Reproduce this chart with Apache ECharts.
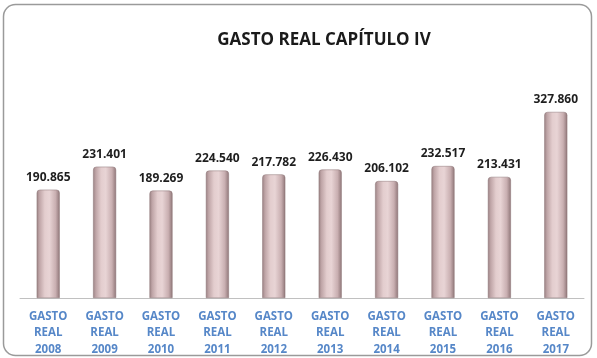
<!DOCTYPE html>
<html>
<head>
<meta charset="utf-8">
<script src="https://cdn.jsdelivr.net/npm/echarts@6/dist/echarts.min.js"></script>
<style>
  html, body { margin: 0; padding: 0; background: #ffffff; }
  #chart { width: 597px; height: 358px; }
</style>
</head>
<body>
<div id="chart"></div>
<script>
// Real spending, chapter IV, by year (thousands)
const years = ['2008', '2009', '2010', '2011', '2012', '2013', '2014', '2015', '2016', '2017'];
const categories = years.map(y => 'GASTO\nREAL\n' + y);
const gastoReal = [190.865, 231.401, 189.269, 224.540, 217.782, 226.430, 206.102, 232.517, 213.431, 327.860];

const chart = echarts.init(document.getElementById('chart'), null, { renderer: 'canvas' });

// Cylinder-like shading across each bar
const barFill = new echarts.graphic.LinearGradient(0, 0, 1, 0, [
  { offset: 0, color: '#9b8284' },
  { offset: 0.12, color: '#bfa5a7' },
  { offset: 0.35, color: '#e3cdce' },
  { offset: 0.55, color: '#e8d4d5' },
  { offset: 0.82, color: '#c9afb1' },
  { offset: 1, color: '#8f7678' }
]);

const fmt = v => v.toFixed(3);

chart.setOption({
  animation: false,
  backgroundColor: '#ffffff',
  title: {
    text: 'GASTO REAL CAPÍTULO IV',
    left: 319,
    top: 27,
    textAlign: 'center',
    textStyle: {
      fontFamily: 'Open Sans',
      fontWeight: 'bold',
      fontSize: 17,
      color: '#1a1a1a'
    }
  },
  grid: { left: 20, right: 13, top: 71, bottom: 60 },
  xAxis: {
    type: 'category',
    data: categories,
    axisLine: { lineStyle: { color: '#c0c0c0', width: 1 } },
    axisTick: { show: false },
    axisLabel: {
      interval: 0,
      margin: 10,
      fontFamily: 'Open Sans',
      fontWeight: 'bold',
      fontSize: 11.5,
      lineHeight: 16.5,
      color: '#5687c8'
    }
  },
  yAxis: {
    type: 'value',
    min: 0,
    max: 400,
    show: false,
    splitLine: { show: false }
  },
  series: [{
    type: 'bar',
    data: gastoReal,
    barWidth: 23,
    itemStyle: {
      color: barFill,
      borderRadius: [3, 3, 0, 0],
      borderColor: '#8a7274',
      borderWidth: 0.5
    },
    label: {
      show: true,
      position: 'top',
      distance: 6,
      formatter: p => fmt(p.value),
      fontFamily: 'Open Sans',
      fontWeight: 'bold',
      fontSize: 12,
      color: '#1e1e1e'
    }
  }],
  graphic: [{
    type: 'rect',
    silent: true,
    z: -10,
    shape: { x: 3.5, y: 4.5, width: 588, height: 351, r: 12 },
    style: {
      fill: 'transparent',
      stroke: '#9a9a9a',
      lineWidth: 1.5
    }
  }]
});
</script>
</body>
</html>
